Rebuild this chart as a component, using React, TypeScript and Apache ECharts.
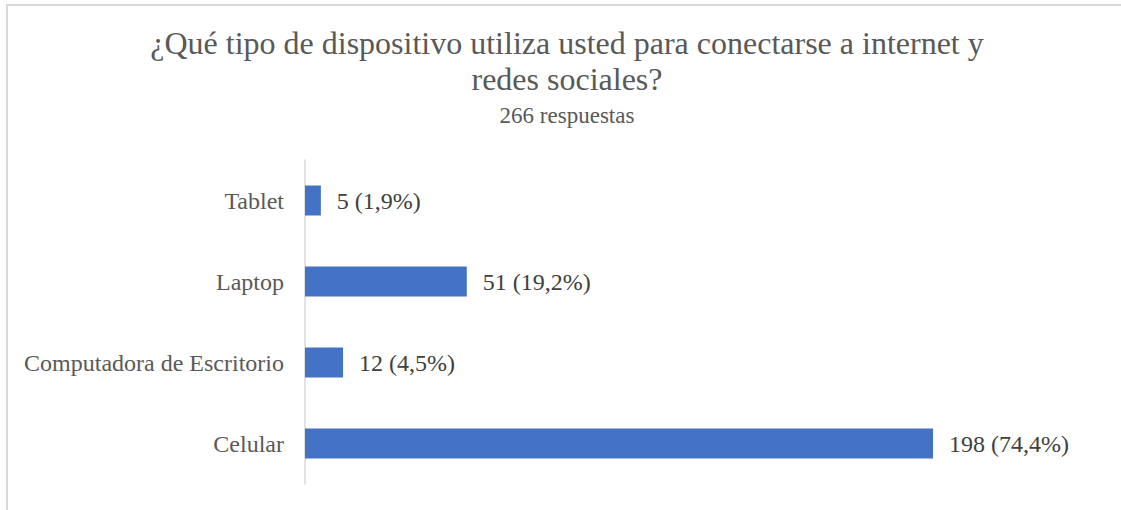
import React, { useEffect, useRef } from "react";
import * as echarts from "echarts";

const categories = ["Tablet", "Laptop", "Computadora de Escritorio", "Celular"];
const values = [5, 51, 12, 198];
const percents = ["1,9%", "19,2%", "4,5%", "74,4%"];
const titleLines = [
  "¿Qué tipo de dispositivo utiliza usted para conectarse a internet y",
  "redes sociales?",
];
const subtitle = "266 respuestas";

const FONT = "'Liberation Serif', 'Times New Roman', serif";

export default function App() {
  const ref = useRef<HTMLDivElement>(null);
  useEffect(() => {
    if (!ref.current) return;
    const chart = echarts.init(ref.current, null, { renderer: "svg" });
    chart.setOption({
      animation: false,
      backgroundColor: "#ffffff",
      grid: { left: 305, right: 23, top: 160, bottom: 26, containLabel: false },
      xAxis: {
        type: "value",
        min: 0,
        max: 250,
        show: false,
        splitLine: { show: false },
      },
      yAxis: {
        type: "category",
        data: categories,
        inverse: true,
        axisLine: { show: true, lineStyle: { color: "#d9d9d9", width: 1.5 } },
        axisTick: { show: false },
        axisLabel: {
          fontFamily: FONT,
          fontSize: 24,
          color: "#595959",
          margin: 21,
        },
      },
      series: [
        {
          type: "bar",
          data: values,
          barWidth: 30,
          itemStyle: { color: "#4472C4" },
          label: {
            show: true,
            position: "right",
            distance: 16,
            fontFamily: FONT,
            fontSize: 24,
            color: "#404040",
            formatter: (p: any) => `${p.value} (${percents[p.dataIndex]})`,
          },
        },
      ],
      graphic: [
        {
          type: "rect",
          shape: { x: 7, y: 5, width: 1130, height: 520 },
          style: { fill: "none", stroke: "#d9d9d9", lineWidth: 2 },
          silent: true,
        },
        {
          type: "text",
          x: 567,
          y: 59,
          style: {
            text: titleLines[0],
            font: `32px ${FONT}`,
            fill: "#595959",
            textAlign: "center",
            textVerticalAlign: "bottom",
          },
        },
        {
          type: "text",
          x: 567,
          y: 95,
          style: {
            text: titleLines[1],
            font: `32px ${FONT}`,
            fill: "#595959",
            textAlign: "center",
            textVerticalAlign: "bottom",
          },
        },
        {
          type: "text",
          x: 567,
          y: 127,
          style: {
            text: subtitle,
            font: `23px ${FONT}`,
            fill: "#595959",
            textAlign: "center",
            textVerticalAlign: "bottom",
          },
        },
      ],
    });
    return () => chart.dispose();
  }, []);
  return (
    <div
      ref={ref}
      style={{ position: "absolute", left: 0, top: 0, width: 1121, height: 510 }}
    />
  );
}
